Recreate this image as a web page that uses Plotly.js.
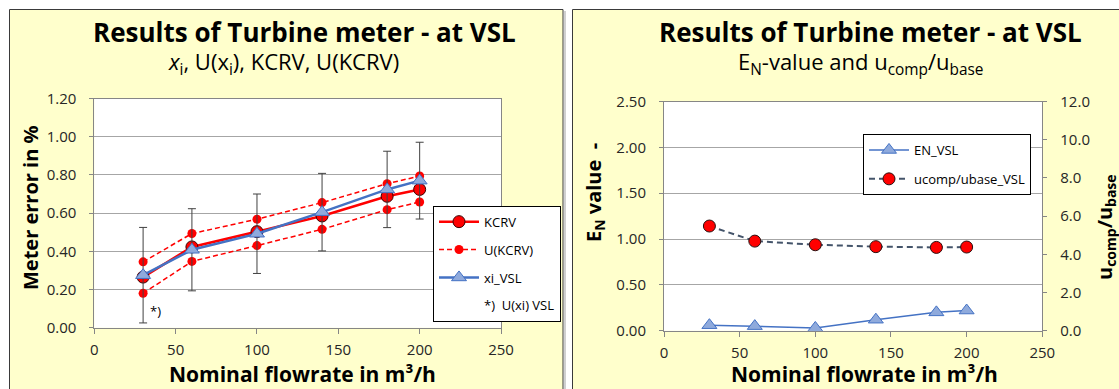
<!DOCTYPE html>
<html><head><meta charset="utf-8">
<script src="https://cdn.plot.ly/plotly-3.0.1.min.js"></script>
<style>html,body{margin:0;padding:0;background:#fff;overflow:hidden}#chart{width:1119px;height:389px}</style>
</head><body><div id="chart"></div>
<script>
// ---- data ----
const flowrate = [30, 60, 100, 140, 180, 200];
const kcrv = [0.265, 0.423, 0.503, 0.585, 0.688, 0.724];
const ukcrvUpper = [0.345, 0.493, 0.568, 0.655, 0.754, 0.794];
const ukcrvLower = [0.180, 0.347, 0.430, 0.515, 0.618, 0.658];
const xiVSL = [0.275, 0.408, 0.492, 0.605, 0.724, 0.770];
const uxiVSL = [0.250, 0.215, 0.208, 0.203, 0.200, 0.201];
const enVSL = [0.06, 0.05, 0.03, 0.12, 0.20, 0.22];
const ucompUbaseVSL = [5.48, 4.69, 4.50, 4.40, 4.36, 4.38];

const xTicks = [0, 50, 100, 150, 200, 250];
const yLeftTicks = [0, 0.2, 0.4, 0.6, 0.8, 1.0, 1.2];
const yENTicks = [0, 0.5, 1.0, 1.5, 2.0, 2.5];
const yRatioTicks = [0, 2, 4, 6, 8, 10, 12];

// ---- layout helpers ----
const W = 1119, H = 389;
const px = v => v / W;
const py = v => 1 - v / H;
const FONT = 'Open Sans, DejaVu Sans, sans-serif';
const RED = '#FF0000';
const BLUE = '#4472C4';
const TRI = '#8FAADC';

const traces = [
  {x: flowrate, y: kcrv, name: 'KCRV', mode: 'lines+markers', xaxis: 'x', yaxis: 'y',
   legend: 'legend', legendgroup: 'a1',
   line: {color: RED, width: 2.5},
   marker: {symbol: 'circle', size: 12, color: RED, line: {color: '#3a0000', width: 1}}},
  {x: flowrate, y: ukcrvUpper, name: 'U(KCRV)', mode: 'lines+markers', xaxis: 'x', yaxis: 'y',
   legend: 'legend', legendgroup: 'a2',
   line: {color: RED, width: 1.5, dash: '5px,3px'},
   marker: {symbol: 'circle', size: 9, color: RED}},
  {x: flowrate, y: ukcrvLower, name: 'U(KCRV)', mode: 'lines+markers', xaxis: 'x', yaxis: 'y',
   legend: 'legend', legendgroup: 'a2', showlegend: false,
   line: {color: RED, width: 1.5, dash: '5px,3px'},
   marker: {symbol: 'circle', size: 9, color: RED}},
  {x: flowrate, y: xiVSL, name: 'xi_VSL', mode: 'lines+markers', xaxis: 'x', yaxis: 'y',
   legend: 'legend', legendgroup: 'a3',
   line: {color: BLUE, width: 2.5},
   marker: {symbol: 'triangle-up', size: 13, color: TRI, line: {color: BLUE, width: 1}},
   error_y: {type: 'data', array: uxiVSL, visible: true, color: '#404040', thickness: 1, width: 4}},
  {x: [null], y: [null], name: '*)\u00a0 U(xi) VSL', mode: 'lines', xaxis: 'x', yaxis: 'y',
   legend: 'legend', legendgroup: 'a4',
   line: {color: 'rgba(0,0,0,0)', width: 1}},

  {x: flowrate, y: enVSL, name: 'EN_VSL', mode: 'lines+markers', xaxis: 'x2', yaxis: 'y2',
   legend: 'legend2', legendgroup: 'b1',
   line: {color: BLUE, width: 1.5},
   marker: {symbol: 'triangle-up', size: 13, color: TRI, line: {color: BLUE, width: 1}}},
  {x: flowrate, y: ucompUbaseVSL, name: 'ucomp/ubase_VSL', mode: 'lines+markers', xaxis: 'x2', yaxis: 'y3',
   legend: 'legend2', legendgroup: 'b2',
   line: {color: '#44546A', width: 2, dash: '6px,4px'},
   marker: {symbol: 'circle', size: 12, color: RED, line: {color: '#2a1010', width: 1}}}
];

const axisCommon = {
  showline: true, linecolor: '#868686', linewidth: 1, mirror: true,
  ticks: 'outside', tickcolor: '#868686', zeroline: false,
  tickfont: {family: FONT, size: 15, color: '#262626'}
};

const layout = {
  width: W, height: H, autosize: false,
  margin: {l: 0, r: 0, t: 0, b: 0},
  paper_bgcolor: '#FFFFFF', plot_bgcolor: '#FFFFFF',
  font: {family: FONT, color: '#000'},
  xaxis: Object.assign({}, axisCommon, {domain: [px(94.3), px(501)], anchor: 'y', range: [0, 250],
    tickvals: xTicks, showgrid: false, ticklen: 5, ticklabelstandoff: 3}),
  yaxis: Object.assign({}, axisCommon, {domain: [py(327.7), py(98.5)], anchor: 'x', range: [0, 1.2],
    tickvals: yLeftTicks, tickformat: '.2f', showgrid: true, gridcolor: '#A6A6A6', ticklen: 4, ticklabelstandoff: 10}),
  xaxis2: Object.assign({}, axisCommon, {domain: [px(664), px(1042.3)], anchor: 'y2', range: [0, 250],
    tickvals: xTicks, showgrid: false, ticklen: 5, ticklabelstandoff: 3}),
  yaxis2: Object.assign({}, axisCommon, {domain: [py(330.7), py(101.5)], anchor: 'x2', range: [0, 2.5],
    tickvals: yENTicks, tickformat: '.2f', showgrid: true, gridcolor: '#A6A6A6', ticklen: 4, ticklabelstandoff: 10}),
  yaxis3: Object.assign({}, axisCommon, {overlaying: 'y2', side: 'right', anchor: 'x2', range: [0, 12],
    tickvals: yRatioTicks, tickformat: '.1f', showgrid: false, mirror: false, ticklen: 4, ticklabelstandoff: 10}),
  legend: {x: px(433), y: py(205.7), xanchor: 'left', yanchor: 'top', bgcolor: '#FFFFFF',
    bordercolor: '#000000', borderwidth: 1, font: {family: FONT, size: 13, color: '#000'},
    itemwidth: 40, traceorder: 'grouped', tracegroupgap: 8},
  legend2: {x: px(863), y: py(134), xanchor: 'left', yanchor: 'top', bgcolor: '#FFFFFF',
    bordercolor: '#000000', borderwidth: 1, font: {family: FONT, size: 13, color: '#000'},
    itemwidth: 40, traceorder: 'grouped', tracegroupgap: 9},
  shapes: [
    {type: 'rect', xref: 'paper', yref: 'paper', x0: px(9.5), x1: px(563), y0: -0.2, y1: py(9.5),
     fillcolor: '#FFFFCC', line: {color: '#3a3a3a', width: 1}, layer: 'below'},
    {type: 'rect', xref: 'paper', yref: 'paper', x0: px(572.5), x1: 1.2, y0: -0.2, y1: py(9.5),
     fillcolor: '#FFFFCC', line: {color: '#3a3a3a', width: 1}, layer: 'below'},
    {type: 'rect', xref: 'paper', yref: 'paper', x0: px(564), x1: px(566), y0: -0.2, y1: py(11),
     fillcolor: '#D0D0D0', line: {width: 0}, layer: 'below'},
    {type: 'rect', xref: 'x domain', yref: 'y domain', x0: 0, x1: 1, y0: 0, y1: 1,
     fillcolor: '#FFFFFF', line: {width: 0}, layer: 'below'},
    {type: 'rect', xref: 'x2 domain', yref: 'y2 domain', x0: 0, x1: 1, y0: 0, y1: 1,
     fillcolor: '#FFFFFF', line: {width: 0}, layer: 'below'}
  ],
  annotations: [
    {text: '<b>Results of Turbine meter - at VSL</b>', xref: 'paper', yref: 'paper', x: px(304), y: py(32),
     xanchor: 'center', yanchor: 'middle', showarrow: false, font: {family: FONT, size: 26, color: '#000'}},
    {text: '<i>x</i><sub>i</sub>, U(x<sub>i</sub>), KCRV, U(KCRV)', xref: 'paper', yref: 'paper', x: px(283), y: py(63),
     xanchor: 'center', yanchor: 'middle', showarrow: false, font: {family: FONT, size: 22, color: '#000'}},
    {text: '<b>Results of Turbine meter - at VSL</b>', xref: 'paper', yref: 'paper', x: px(870), y: py(32),
     xanchor: 'center', yanchor: 'middle', showarrow: false, font: {family: FONT, size: 26, color: '#000'}},
    {text: 'E<sub>N</sub>-value and u<sub>comp</sub>/u<sub>base</sub>', xref: 'paper', yref: 'paper', x: px(860), y: py(63),
     xanchor: 'center', yanchor: 'middle', showarrow: false, font: {family: FONT, size: 22, color: '#000'}},
    {text: '<b>Meter error in %</b>', xref: 'paper', yref: 'paper', x: px(31), y: py(208), textangle: -90,
     xanchor: 'center', yanchor: 'middle', showarrow: false, font: {family: FONT, size: 20, color: '#000'}},
    {text: '<b>Nominal flowrate in m³/h</b>', xref: 'paper', yref: 'paper', x: px(302), y: py(374),
     xanchor: 'center', yanchor: 'middle', showarrow: false, font: {family: FONT, size: 21, color: '#000'}},
    {text: '<b>Nominal flowrate in m³/h</b>', xref: 'paper', yref: 'paper', x: px(864), y: py(374),
     xanchor: 'center', yanchor: 'middle', showarrow: false, font: {family: FONT, size: 21, color: '#000'}},
    {text: '<b>E<sub>N</sub> value\u00a0\u00a0-</b>', xref: 'paper', yref: 'paper', x: px(594), y: py(193), textangle: -90,
     xanchor: 'center', yanchor: 'middle', showarrow: false, font: {family: FONT, size: 20, color: '#000'}},
    {text: '<b>u<sub>comp</sub>/u<sub>base</sub></b>', xref: 'paper', yref: 'paper', x: px(1105), y: py(227), textangle: -90,
     xanchor: 'center', yanchor: 'middle', showarrow: false, font: {family: FONT, size: 20, color: '#000'}},
    {text: '*)', xref: 'x', yref: 'y', x: 33, y: 0.085, xanchor: 'left', yanchor: 'middle', showarrow: false,
     font: {family: FONT, size: 13, color: '#000'}}
  ]
};

Plotly.newPlot('chart', traces, layout, {staticPlot: true, displayModeBar: false});
</script>
</body></html>
